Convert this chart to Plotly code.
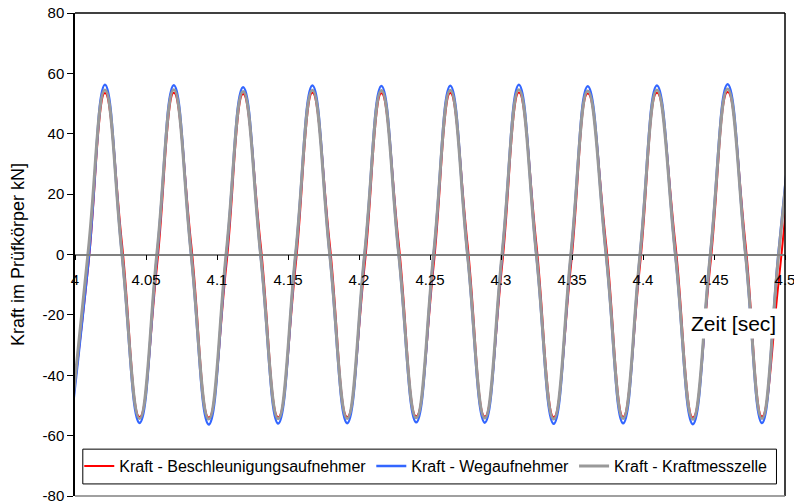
import plotly.graph_objects as go

# Sample times (s): trough, up-crossing, peak, down-crossing, ...
zeit = [3.9972,
        4.0094, 4.0211, 4.0331, 4.0455,
        4.0578, 4.0696, 4.0818, 4.0942,
        4.1066, 4.1184, 4.1307, 4.1431,
        4.1554, 4.1672, 4.1794, 4.1917,
        4.2040, 4.2158, 4.2280, 4.2403,
        4.2526, 4.2643, 4.2764, 4.2886,
        4.3008, 4.3126, 4.3249, 4.3371,
        4.3493, 4.3611, 4.3740, 4.3860,
        4.3979, 4.4098, 4.4228, 4.4351,
        4.4474, 4.4596, 4.4722, 4.4838,
        4.4953, 4.5071]

kraft_beschleunigung = [-53.6,
        -3.5, 53.5, 3.5, -53.8,
        -3.5, 53.6, 3.5, -54.0,
        -3.5, 53.2, 3.5, -53.9,
        -3.5, 53.6, 3.5, -53.8,
        -3.5, 53.4, 3.5, -53.6,
        -3.5, 53.5, 3.5, -53.7,
        -3.5, 53.7, 3.5, -53.9,
        -3.5, 53.3, 3.5, -53.8,
        -3.5, 53.6, 3.5, -54.0,
        -3.5, 53.8, 3.5, -53.7,
        -10.0, 50.0]

kraft_weg = [-55.5,
        -2.5, 56.2, 0, -55.8,
        0, 56.1, 0, -56.3,
        0, 55.4, 0, -56.0,
        0, 56.0, 0, -55.9,
        0, 55.8, 0, -55.6,
        0, 55.9, 0, -55.7,
        0, 56.2, 0, -56.1,
        0, 55.7, 0, -55.9,
        0, 56.0, 0, -56.2,
        0, 56.4, 0, -55.8,
        0, 56.0]

kraft_messzelle = [-54.2,
        1.5, 54.5, 0, -54.3,
        1.0, 54.6, 0, -54.5,
        1.0, 54.0, 0, -54.4,
        0.5, 54.4, 0, -54.3,
        0.5, 54.3, 0, -54.1,
        0.5, 54.4, 0, -54.2,
        0.5, 54.6, 0, -54.5,
        0.5, 54.2, 0, -54.3,
        0, 54.5, 0, -54.6,
        0, 54.8, 0, -54.3,
        -1.0, 54.5]

series_names = ["Kraft - Beschleunigungsaufnehmer", "Kraft - Wegaufnehmer", "Kraft - Kraftmesszelle"]
series_colors = ["#FF0000", "#3366FF", "#999999"]
series_widths = [2, 2.5, 3]

x_ticks = [4.0, 4.05, 4.1, 4.15, 4.2, 4.25, 4.3, 4.35, 4.4, 4.45, 4.5]
x_ticktext = ["4", "4.05", "4.1", "4.15", "4.2", "4.25", "4.3", "4.35", "4.4", "4.45", "4.5"]
y_ticks = [-80, -60, -40, -20, 0, 20, 40, 60, 80]
y_ticktext = ["-80", "-60", "-40", "-20", "0", "20", "40", "60", "80"]

FONT = "Liberation Sans, Arial, sans-serif"

fig = go.Figure()
for name, vals, col, w in zip(series_names,
                              [kraft_beschleunigung, kraft_weg, kraft_messzelle],
                              series_colors, series_widths):
    fig.add_trace(go.Scatter(x=zeit, y=vals, mode="lines", name=name,
                             line=dict(color=col, width=w, shape="spline", smoothing=1.3)))

fig.update_layout(
    width=794, height=504,
    margin=dict(l=75, r=9, t=13, b=8, autoexpand=False),
    paper_bgcolor="white", plot_bgcolor="white",
    font=dict(family=FONT, size=15, color="black"),
    showlegend=True,
    legend=dict(orientation="h", x=0.006, y=0.062, xanchor="left", yanchor="middle",
                bgcolor="rgba(0,0,0,0)", borderwidth=0,
                font=dict(family=FONT, size=16, color="black"),
                itemwidth=30, tracegroupgap=0),
    xaxis=dict(range=[4.0, 4.5], tickvals=x_ticks, ticktext=x_ticktext,
               anchor="free", position=0.5, showline=True, linecolor="#808080",
               linewidth=1.5, ticks="outside", ticklen=5, tickcolor="black",
               tickwidth=1, ticklabelstandoff=7, showgrid=False, zeroline=False,
               automargin=False, ticklabeloverflow="allow",
               tickfont=dict(family=FONT, size=15, color="black")),
    yaxis=dict(range=[-80, 80], tickvals=y_ticks, ticktext=y_ticktext,
               showline=True, linecolor="black", linewidth=1.5,
               ticks="outside", ticklen=6, tickcolor="black",
               showgrid=False, zeroline=False, automargin=False,
               ticklabeloverflow="allow",
               tickfont=dict(family=FONT, size=15, color="black"),
               title=dict(text="Kraft im Prüfkörper kN]", standoff=13,
                          font=dict(family=FONT, size=18, color="black"))),
    shapes=[
        dict(type="line", xref="paper", yref="paper", x0=0, x1=1, y0=1, y1=1,
             line=dict(color="black", width=1.5)),
        dict(type="line", xref="paper", yref="paper", x0=1, x1=1, y0=0, y1=1,
             line=dict(color="black", width=1.5)),
        dict(type="line", xref="paper", yref="paper", x0=0, x1=1, y0=0, y1=0,
             line=dict(color="#808080", width=1.5)),
        dict(type="rect", xref="paper", yref="paper", x0=0.011, x1=0.988, y0=0.025, y1=0.097,
             fillcolor="white", line=dict(color="black", width=1), layer="above"),
    ],
    annotations=[
        dict(text="Zeit [sec]", xref="paper", yref="paper", x=0.928, y=0.357,
             xanchor="center", yanchor="middle", showarrow=False, bgcolor="white",
             borderpad=3, font=dict(family=FONT, size=21, color="black")),
    ],
)

# remove the default 8px page margin so the figure fills the window exactly
fig.write_html("out.html", config={"displayModeBar": False},
               post_script="document.body.style.margin='0px';")
